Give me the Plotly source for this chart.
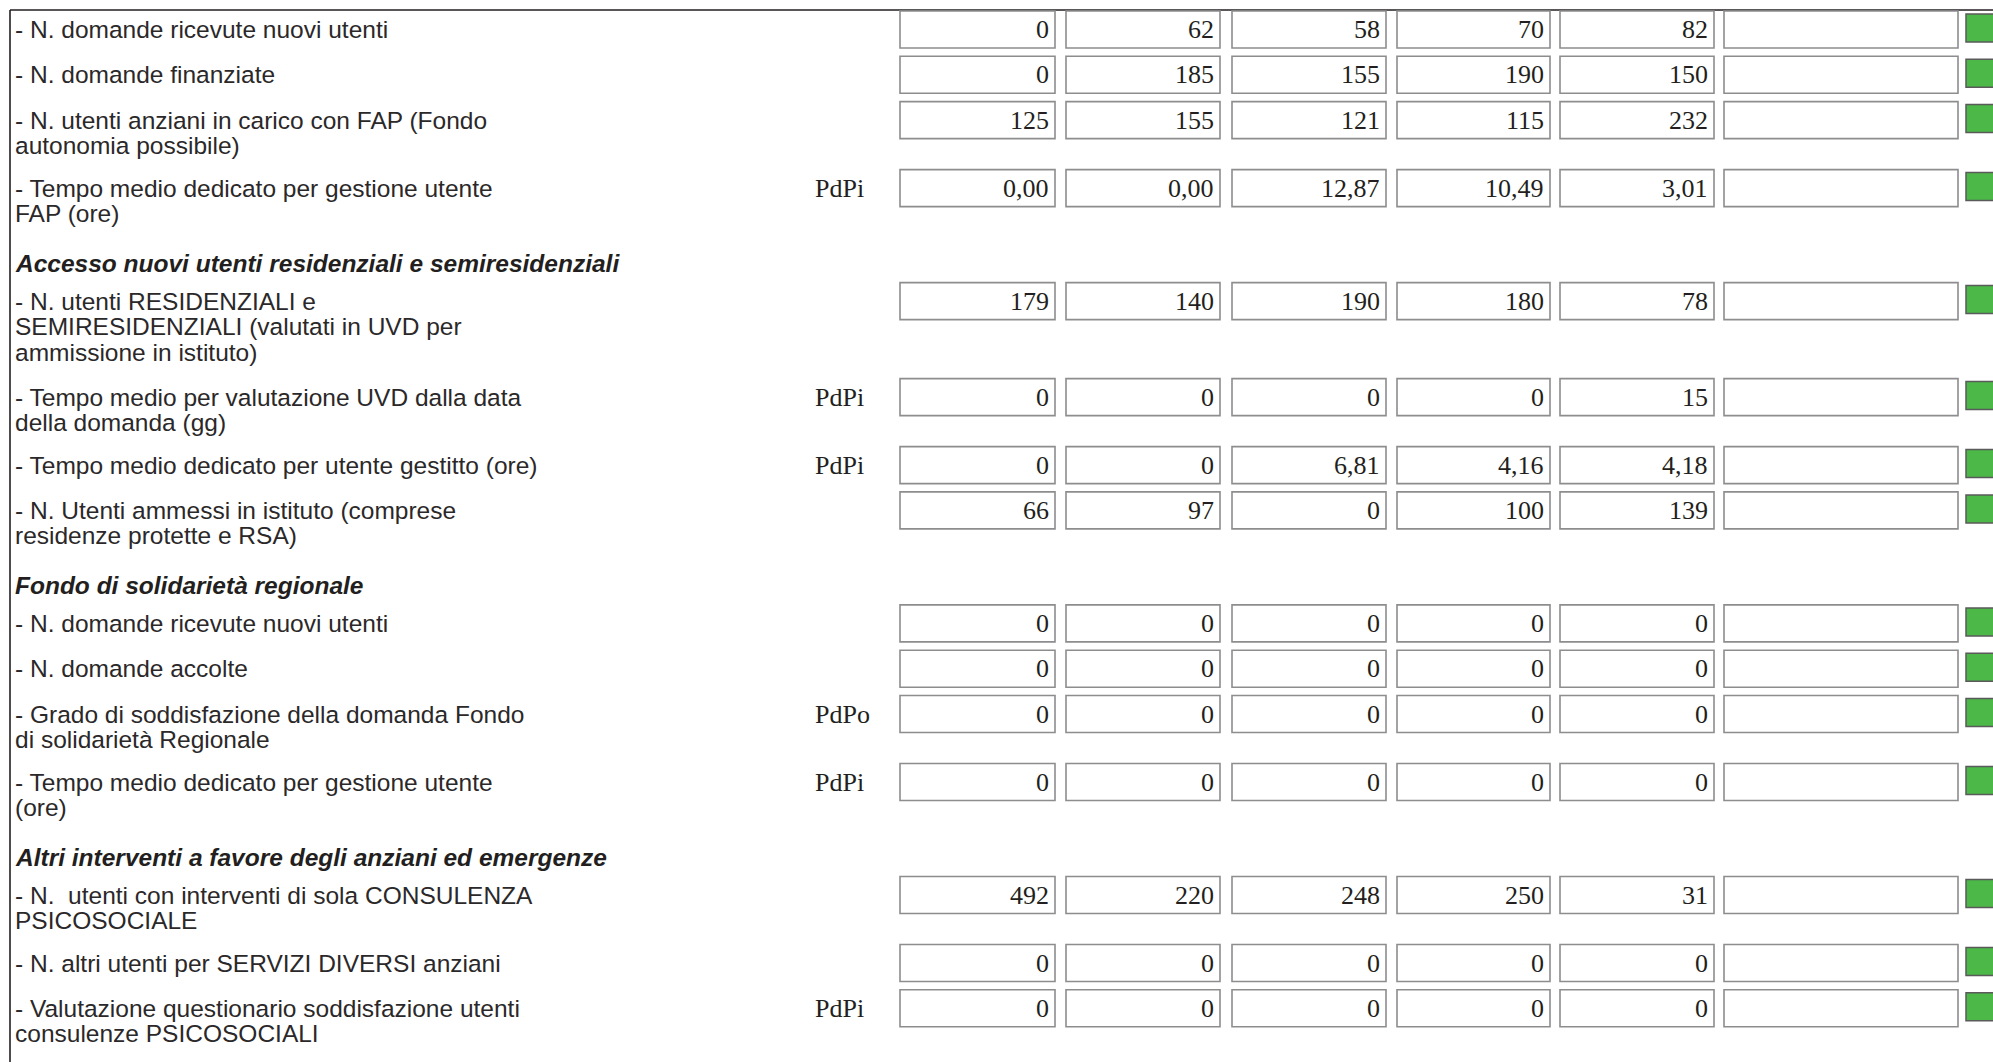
import plotly.graph_objects as go

# ---------------- data ----------------
row_labels = [
    "- N. domande ricevute nuovi utenti",
    "- N. domande finanziate",
    "- N. utenti anziani in carico con FAP (Fondo\nautonomia possibile)",
    "- Tempo medio dedicato per gestione utente\nFAP (ore)",
    "- N. utenti RESIDENZIALI e\nSEMIRESIDENZIALI (valutati in UVD per\nammissione in istituto)",
    "- Tempo medio per valutazione UVD dalla data\ndella domanda (gg)",
    "- Tempo medio dedicato per utente gestitto (ore)",
    "- N. Utenti ammessi in istituto (comprese\nresidenze protette e RSA)",
    "- N. domande ricevute nuovi utenti",
    "- N. domande accolte",
    "- Grado di soddisfazione della domanda Fondo\ndi solidarietà Regionale",
    "- Tempo medio dedicato per gestione utente\n(ore)",
    "- N.  utenti con interventi di sola CONSULENZA\nPSICOSOCIALE",
    "- N. altri utenti per SERVIZI DIVERSI anziani",
    "- Valutazione questionario soddisfazione utenti\nconsulenze PSICOSOCIALI",
]
row_units = ["", "", "", "PdPi", "", "PdPi", "PdPi", "", "", "", "PdPo", "PdPi", "", "", "PdPi"]

section_titles = [
    "Accesso nuovi utenti residenziali e semiresidenziali",
    "Fondo di solidarietà regionale",
    "Altri interventi a favore degli anziani ed emergenze",
]
section_start_rows = [4, 8, 12]

col_1 = ["0", "0", "125", "0,00", "179", "0", "0", "66", "0", "0", "0", "0", "492", "0", "0"]
col_2 = ["62", "185", "155", "0,00", "140", "0", "0", "97", "0", "0", "0", "0", "220", "0", "0"]
col_3 = ["58", "155", "121", "12,87", "190", "0", "6,81", "0", "0", "0", "0", "0", "248", "0", "0"]
col_4 = ["70", "190", "115", "10,49", "180", "0", "4,16", "100", "0", "0", "0", "0", "250", "0", "0"]
col_5 = ["82", "150", "232", "3,01", "78", "15", "4,18", "139", "0", "0", "0", "0", "31", "0", "0"]
col_6 = [""] * 15
row_status = ["ok"] * 15

# ---------------- layout parameters ----------------
W, H = 1993, 1062
TOP = 11.0
ROW_H = {1: 45.3, 2: 68.0, 3: 96.0}
HEADER_H = 45.0
BOX_H = 37.0
LINE_STEP = 25.5
LABEL_X = 13
UNIT_X = 813
COL_X = [900, 1066, 1232, 1397, 1560, 1724]
COL_W = [155, 154, 154, 153, 154, 234]
GREEN_X0, GREEN_X1 = 1966, 2010

label_font = dict(family="Liberation Sans, Arial, sans-serif", size=24.5, color="#2b2829")
head_font = dict(family="Liberation Sans, Arial, sans-serif", size=24.5, color="#231f20")
num_font = dict(family="Liberation Serif, Times New Roman, serif", size=26, color="#231f20")
status_colors = {"ok": "#4cb848"}

columns = [col_1, col_2, col_3, col_4, col_5, col_6]

fig = go.Figure()
fig.add_trace(go.Scatter(x=[0, W], y=[0, H], mode="markers", marker=dict(opacity=0),
                         hoverinfo="skip", showlegend=False))

shapes = []
annotations = []

# frame lines
shapes.append(dict(type="line", xref="x", yref="y", x0=10, x1=W + 5, y0=10, y1=10,
                   line=dict(color="#231f20", width=1.6)))
shapes.append(dict(type="line", xref="x", yref="y", x0=10, x1=10, y0=10, y1=H + 5,
                   line=dict(color="#231f20", width=1.6)))

y = TOP
for i, label in enumerate(row_labels):
    if i in section_start_rows:
        title = section_titles[section_start_rows.index(i)]
        annotations.append(dict(x=LABEL_X, y=y + 26, xref="x", yref="y", text="<b><i>" + title + "</i></b>",
                                showarrow=False, xanchor="left", yanchor="middle", font=head_font))
        y += HEADER_H
    lines = label.split("\n")
    cy = y + BOX_H / 2
    for k, ln in enumerate(lines):
        annotations.append(dict(x=LABEL_X, y=cy + k * LINE_STEP, xref="x", yref="y", text=ln,
                                showarrow=False, xanchor="left", yanchor="middle", font=label_font))
    if row_units[i]:
        annotations.append(dict(x=UNIT_X, y=cy, xref="x", yref="y", text=row_units[i],
                                showarrow=False, xanchor="left", yanchor="middle", font=num_font))
    for c, col in enumerate(columns):
        x0 = COL_X[c]
        x1 = x0 + COL_W[c]
        shapes.append(dict(type="rect", xref="x", yref="y", x0=x0, x1=x1, y0=y, y1=y + BOX_H,
                           line=dict(color="#8d8d8f", width=1.6), fillcolor="white"))
        if col[i]:
            annotations.append(dict(x=x1 - 4, y=cy, xref="x", yref="y", text=col[i],
                                    showarrow=False, xanchor="right", yanchor="middle", font=num_font))
    shapes.append(dict(type="rect", xref="x", yref="y", x0=GREEN_X0, x1=GREEN_X1, y0=y + 3, y1=y + 31,
                       line=dict(color="#5a5a5a", width=1.5), fillcolor=status_colors[row_status[i]]))
    y += ROW_H[len(lines)]

fig.update_layout(
    width=W, height=H,
    margin=dict(l=0, r=0, t=0, b=0, pad=0),
    paper_bgcolor="white", plot_bgcolor="white",
    xaxis=dict(range=[0, W], visible=False, fixedrange=True),
    yaxis=dict(range=[H, 0], visible=False, fixedrange=True),
    shapes=shapes, annotations=annotations, showlegend=False,
)

fig.write_html("out.html", config={"displayModeBar": False},
               post_script="document.body.style.margin='0';document.body.style.overflow='hidden';")
